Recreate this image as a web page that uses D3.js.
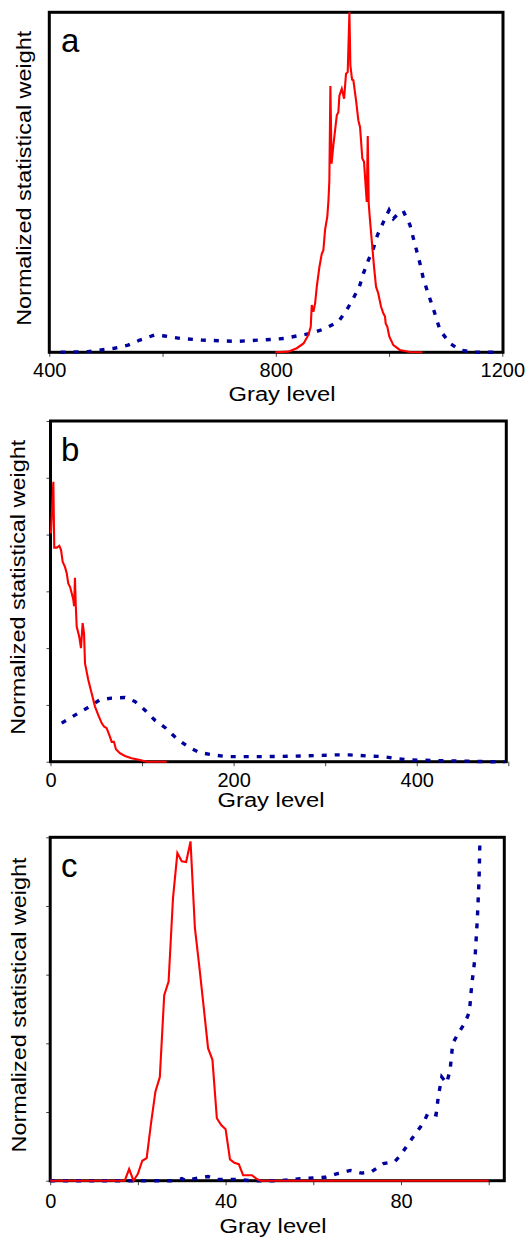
<!DOCTYPE html>
<html><head><meta charset="utf-8">
<script src="https://cdn.jsdelivr.net/npm/d3@7/dist/d3.min.js"></script>
<style>body{margin:0;background:#fff}svg{display:block}</style>
</head><body>
<svg id="chart" width="527" height="1239"></svg>
<script>
// ---------- Panel a data ----------
const aRedGray   = [799,822,837,849,857.6,861.7,863.5,866.4,869.4,872.4,877,881.2,884,887,891,893,894.6,896.4,898.5,901.7,907.7,910.5,912.3,916.5,920.6,924,927,930,931.7,934.7,937,941.7,945.8,948.8,952.8,955.8,960.6,962.4,964.1,966.4,969.4,973.5,977,981,985.9,990,992.9,994,997,1000.5,1007.6,1019,1037,1059];
const aRedWeight = [0,0.002,0.012,0.026,0.051,0.075,0.139,0.119,0.144,0.193,0.251,0.29,0.30,0.36,0.40,0.447,0.506,0.783,0.555,0.609,0.697,0.706,0.755,0.775,0.746,0.819,0.824,1.0,0.844,0.802,0.80,0.741,0.682,0.662,0.57,0.56,0.442,0.636,0.437,0.388,0.33,0.251,0.193,0.173,0.134,0.114,0.105,0.085,0.075,0.046,0.021,0.007,0.001,0];
const aBlueGray   = [420,468,515,539,560,586,604,631,669,729,793,816,843,863.5,887,910.5,925,937,947.6,954.7,963.5,972.3,979.4,990,1000,1007.6,1016.4,1025,1037,1043,1054.7,1060.5,1069,1078,1090,1107.6,1125,1149,1196];
const aBlueWeight = [0,0.002,0.012,0.021,0.036,0.051,0.048,0.041,0.036,0.032,0.038,0.041,0.05,0.056,0.07,0.09,0.124,0.159,0.193,0.232,0.271,0.305,0.344,0.383,0.418,0.393,0.408,0.416,0.374,0.335,0.261,0.217,0.173,0.129,0.065,0.026,0.007,0,0];
const aTicks = [400,600,800,1000,1200];
const aTickLabels = ["400","","800","","1200"];

// ---------- Panel b data ----------
const bRedGray   = [0.5,3.1,4.1,6.8,9.6,11.5,13.3,15.8,17.7,19.4,21.3,23.1,24.9,25.8,26.7,27.6,28.6,31.4,33.3,35.1,36.6,37.7,41.3,45,48.6,52.2,55.9,58.4,61.3,64.9,66.8,69.3,71.5,75.8,81.3,88.6,97.7,105,127];
const bRedWeight = [4.02,4.93,3.77,3.77,3.80,3.73,3.52,3.43,3.32,3.14,3.08,2.97,2.85,2.74,3.24,2.75,2.38,2.20,2.0,2.44,2.26,1.73,1.44,1.20,0.97,0.82,0.68,0.62,0.59,0.44,0.35,0.35,0.22,0.15,0.10,0.06,0.03,0,0];
const bBlueGray   = [12.2,26.7,39.5,54,66.8,81.3,92.2,103,114,126,137.7,150.4,163,177.7,192.3,206.8,238,275,311.6,326,348,363,379.6,394,408.7,423,450.5,479.6,496];
const bBlueWeight = [0.68,0.82,0.94,1.09,1.12,1.13,1.06,0.91,0.73,0.59,0.41,0.26,0.16,0.12,0.09,0.09,0.09,0.10,0.12,0.12,0.10,0.09,0.05,0.03,0.025,0.02,0.01,0,0];
const bTicks = [0,100,200,300,400,500];
const bTickLabels = ["0","","200","","400",""];
const bYTicks = [0,1,2,3,4,5,6];

// ---------- Panel c data ----------
const cRedGray   = [0,17,18,19,20,21,22,23,24,25,26,27,28,29,30,31,32,33,34,35,36,37,38,39,40,41,42,43,44,45,46,47,48,100];
const cRedWeight = [0,0,0.17,0,0.1,0.29,0.33,0.84,1.30,1.51,2.70,2.90,4.11,4.77,4.65,4.64,4.94,3.68,3.12,2.53,1.93,1.76,0.91,0.81,0.75,0.31,0.26,0.24,0.08,0.08,0.08,0.03,0,0];
const cBlueGray   = [0,28,30,31,33,36,38,42,46,52.4,57,60,62.7,65.3,68.4,71,73.3,76,78.6,79.9,81.7,83.6,85.1,86.2,88,88.5,89.3,90.4,91.2,91.8,93.1,94.6,95.6,96.1,96.9,97.4,97.8,98];
const cBlueWeight = [0,0,0.03,0,0.03,0.06,0.02,0.02,0,0,0.03,0.04,0.05,0.10,0.15,0.11,0.13,0.25,0.28,0.37,0.54,0.71,0.84,0.99,0.96,1.22,1.51,1.42,1.61,2.0,2.15,2.30,2.46,2.83,3.26,3.80,4.38,4.96];
const cTicks = [0,20,40,60,80,100];
const cTickLabels = ["0","","40","","80",""];
const cYTicks = [0,1,2,3,4,5];

const xTitle = "Gray level";
const yTitle = "Normalized statistical weight";

// ---------- layout ----------
const FONT = "'Liberation Sans', Arial, sans-serif";
const panels = [
  {letter:"a", red:d3.zip(aRedGray,aRedWeight), blue:d3.zip(aBlueGray,aBlueWeight), ticks:aTicks, labels:aTickLabels, yTicks:null,
   xDomain:[400,1200], yDomain:[0,1], left:49.3, xEnd:502.3, frameRight:503, top:12.3, bottom:352.3,
   tickLabelY:25, xTitleX:282, xTitleY:401, yTitleX:31, letterY:51.7},
  {letter:"b", red:d3.zip(bRedGray,bRedWeight), blue:d3.zip(bBlueGray,bBlueWeight), ticks:bTicks, labels:bTickLabels, yTicks:bYTicks,
   xDomain:[0,500], yDomain:[0,6], left:50.5, xEnd:508.3, frameRight:506.3, top:421, bottom:761.7,
   tickLabelY:25.5, xTitleX:271, xTitleY:806.5, yTitleX:24.5, letterY:460.7},
  {letter:"c", red:d3.zip(cRedGray,cRedWeight), blue:d3.zip(cBlueGray,cBlueWeight), ticks:cTicks, labels:cTickLabels, yTicks:cYTicks,
   xDomain:[0,100], yDomain:[0,5], left:50.2, xEnd:488.7, frameRight:504.3, top:837.3, bottom:1180.7,
   tickLabelY:27, xTitleX:273, xTitleY:1232.5, yTitleX:26, letterY:876.7}
];

const svg = d3.select("#chart");
svg.append("rect").attr("width",527).attr("height",1239).attr("fill","#fff");

panels.forEach(p => {
  const g = svg.append("g");
  const x = d3.scaleLinear().domain(p.xDomain).range([p.left, p.xEnd]);
  const y = d3.scaleLinear().domain(p.yDomain).range([p.bottom, p.top]);

  // x axis
  const xa = g.append("g").attr("transform", `translate(0,${p.bottom})`)
    .call(d3.axisBottom(x).tickValues(p.ticks).tickFormat((d,i)=>p.labels[i]).tickSize(4.5));
  xa.select(".domain").remove();
  xa.selectAll(".tick line").attr("stroke","#444").attr("stroke-width",1);
  xa.selectAll(".tick text").attr("y", p.tickLabelY).attr("dy",0)
    .attr("font-family",FONT).attr("font-size",20).attr("fill","#000");

  // y axis ticks
  if (p.yTicks) {
    const ya = g.append("g").attr("transform", `translate(${p.left},0)`)
      .call(d3.axisLeft(y).tickValues(p.yTicks).tickFormat("").tickSize(4));
    ya.select(".domain").remove();
    ya.selectAll(".tick line").attr("stroke","#444").attr("stroke-width",1);
  }

  // frame
  g.append("rect").attr("x",p.left).attr("y",p.top)
    .attr("width",p.frameRight-p.left).attr("height",p.bottom-p.top)
    .attr("fill","none").attr("stroke","#000").attr("stroke-width",3);

  const line = d3.line().x(d=>x(d[0])).y(d=>y(d[1]));
  g.append("path").datum(p.blue).attr("d",line).attr("fill","none")
    .attr("stroke","#00009c").attr("stroke-width",3.4).attr("stroke-dasharray","5,8");
  g.append("path").datum(p.red).attr("d",line).attr("fill","none")
    .attr("stroke","#ff0000").attr("stroke-width",2.1).attr("stroke-linejoin","miter");

  // titles
  g.append("text").attr("x",p.xTitleX).attr("y",p.xTitleY).attr("text-anchor","middle")
    .attr("font-family",FONT).attr("font-size",20).attr("textLength",107).attr("lengthAdjust","spacingAndGlyphs")
    .text(xTitle);
  g.append("text").attr("transform",`translate(${p.yTitleX},${(p.top+p.bottom)/2 - 4}) rotate(-90)`)
    .attr("text-anchor","middle").attr("font-family",FONT).attr("font-size",20)
    .attr("textLength",295).attr("lengthAdjust","spacingAndGlyphs").text(yTitle);
  g.append("text").attr("x",61).attr("y",p.letterY).attr("font-family",FONT).attr("font-size",33).text(p.letter);
});
</script>
</body></html>
